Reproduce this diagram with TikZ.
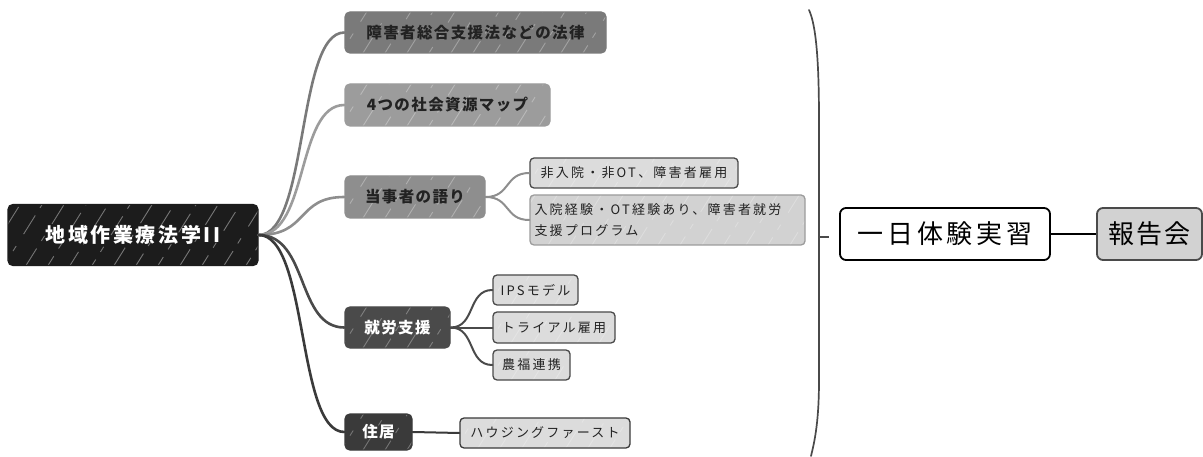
\documentclass[tikz,border=0pt]{standalone}
\usepackage{fontspec}
\setmainfont{Noto Sans CJK JP}
\definecolor{croot}{HTML}{1C1C1C}
\definecolor{cA}{HTML}{7A7A7A}
\definecolor{cB}{HTML}{9C9C9C}
\definecolor{cC}{HTML}{8E8E8E}
\definecolor{cD}{HTML}{4A4A4A}
\definecolor{cE}{HTML}{3A3A3A}
\definecolor{cleaf}{HTML}{DCDCDC}
\definecolor{cleafb}{HTML}{D2D2D2}
\definecolor{ctext}{HTML}{222222}
\begin{document}
\begin{tikzpicture}[x=1pt,y=-1pt,
  hatch/.style={path picture={\foreach \k/\o in {-70/0,-48/9,-26/4,-4/14,18/2,40/11,62/6,84/15,106/1,128/8,150/12,172/3,194/10,216/5,238/13,260/7,282/0}{\draw[white,opacity=#1,line width=0.9pt,dash pattern=on 22pt off 9pt on 6pt off 14pt, dash phase=\o pt] ([xshift=\k pt]path picture bounding box.south west) -- ++(40pt,64pt);}}},
  hatch/.default=0.3,
  base/.style={rounded corners=5pt, inner sep=0pt, align=center, line width=1.3pt},
  rootbox/.style={base, fill=croot, draw=croot, text=white, minimum width=250pt, minimum height=61pt, hatch=0.4,
    font=\fontsize{20}{24}\bfseries\selectfont\addfontfeature{LetterSpace=13}},
  lone/.style={base, draw=#1, fill=#1, minimum height=41pt, hatch=0.3,
    font=\fontsize{15.5}{18}\bfseries\selectfont\addfontfeature{LetterSpace=9}},
  leaf/.style={base, draw=#1, fill=cleaf, text=ctext, minimum height=30pt, rounded corners=4pt,
    font=\fontsize{13}{16}\selectfont\addfontfeature{LetterSpace=17}, hatch=0.25},
  big/.style={base, line width=1.8pt, rounded corners=6pt, minimum height=52pt,
    font=\fontsize{26}{30}\selectfont\addfontfeature{LetterSpace=15}},
  conn/.style={line width=2.6pt, line cap=round},
  thin/.style={line width=2pt, line cap=round}
]
\useasboundingbox[fill=white] (0,0) rectangle (1203,457);

% root
\node[rootbox] (root) at (133,235) {地域作業療法学II};

% level 1
\node[lone=cA, text=ctext, minimum width=261pt] (n1) at (475.5,32.5) {障害者総合支援法などの法律};
\node[lone=cB, text=ctext, minimum width=205pt, minimum height=42pt] (n2) at (447.5,105) {4つの社会資源マップ};
\node[lone=cC, text=ctext, minimum width=140pt, minimum height=42pt] (n3) at (415,197) {当事者の語り};
\node[lone=cD, text=white, minimum width=105pt] (n4) at (397.5,327.5) {就労支援};
\node[lone=cE, text=white, minimum width=67pt, minimum height=36pt] (n5) at (378.5,432) {住居};

% level 2
\node[leaf=cD, minimum width=208pt] (a1) at (634,173) {非入院・非OT、障害者雇用};
\node[leaf=cB, fill=cleafb, minimum width=275pt, minimum height=50pt, align=left, text width=266pt,
  font=\fontsize{13}{21}\selectfont\addfontfeature{LetterSpace=17}] (a2) at (667.5,220) {入院経験・OT経験あり、障害者就労\\支援プログラム};
\node[leaf=cD, minimum width=85pt] (b1) at (535.5,290) {IPSモデル};
\node[leaf=cD, minimum width=122pt, minimum height=31pt] (b2) at (554,327.5) {トライアル雇用};
\node[leaf=cD, minimum width=77pt] (b3) at (531.5,365) {農福連携};
\node[leaf=cE, minimum width=170pt] (c1) at (545,433) {ハウジングファースト};

% connectors from root
\draw[conn, draw=cA] (root.east) .. controls +(50,0) and +(-48,0) .. (n1.west);
\draw[conn, draw=cB] (root.east) .. controls +(50,0) and +(-48,0) .. (n2.west);
\draw[conn, draw=cC] (root.east) .. controls +(50,0) and +(-48,0) .. (n3.west);
\draw[conn, draw=cD] (root.east) .. controls +(50,0) and +(-48,0) .. (n4.west);
\draw[conn, draw=cE] (root.east) .. controls +(50,0) and +(-48,0) .. (n5.west);

% level-2 connectors
\draw[thin, draw=cC] (n3.east) .. controls +(25,0) and +(-25,0) .. (a1.west);
\draw[thin, draw=cC] (n3.east) .. controls +(25,0) and +(-25,0) .. (a2.west);
\draw[thin, draw=cD] (n4.east) .. controls +(25,0) and +(-25,0) .. (b1.west);
\draw[thin, draw=cD] (n4.east) -- (b2.west);
\draw[thin, draw=cD] (n4.east) .. controls +(25,0) and +(-25,0) .. (b3.west);
\draw[thin, draw=cE] (n5.east) -- (c1.west);

% bracket
\draw[line width=1.7pt, draw=cD, line cap=round] (809,10) .. controls (816,25) and (819,60) .. (819,120) -- (819,380) .. controls (819,420) and (815,440) .. (811,456);
\coordinate (br) at (820,237);
\coordinate (brtick) at (829,237);
\draw[line width=1.3pt, draw=cD] (br) -- (brtick);

% right side
\node[big, draw=black, fill=white, text=black, minimum width=210pt] (ichi) at (945,234) {一日体験実習};
\node[big, draw=cD, fill=cleafb, text=black, minimum width=105pt, font=\fontsize{26}{30}\selectfont\addfontfeature{LetterSpace=8}] (hok) at (1149.5,234) {報告会};
\draw[line width=1.8pt] (ichi.east) -- (hok.west);
\end{tikzpicture}
\end{document}
